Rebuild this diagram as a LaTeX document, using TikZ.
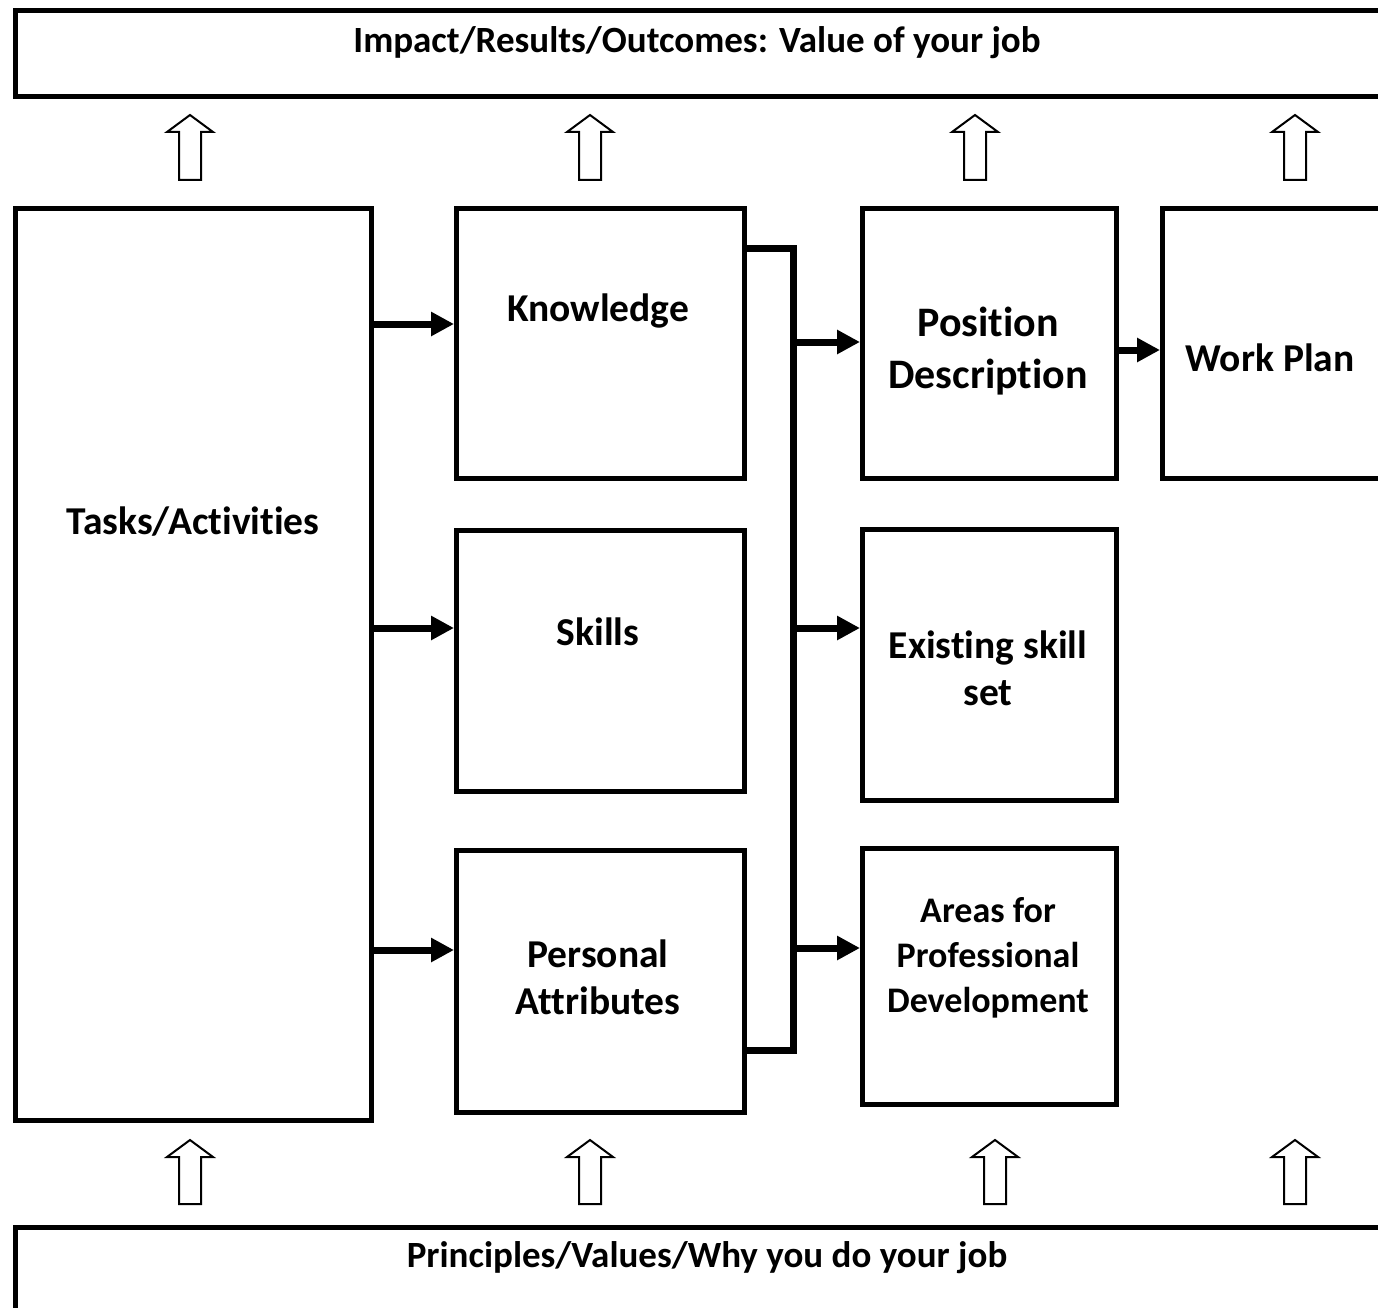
\documentclass[tikz,border=0pt]{standalone}
\usepackage{fontspec}
\setmainfont{Carlito}[Ligatures=NoCommon]
\usetikzlibrary{arrows.meta}

\tikzset{
  box/.style={draw, line width=5pt, inner sep=0pt, anchor=north west},
  lbl/.style={font=\bfseries\fontsize{39.5}{47}\selectfont, align=center},
  band/.style={lbl, font=\bfseries\fontsize{37}{44}\selectfont},
  conn/.style={line width=7pt, -{Triangle[length=23pt,width=23pt]}},
  hollow/.style={draw, line width=2pt, fill=white, line join=miter},
}

\begin{document}
\begin{tikzpicture}[x=1pt,y=-1pt]
\useasboundingbox (0,0) rectangle (1378,1308);

% top and bottom bands
\node[box, minimum width=1450, minimum height=86] (impact) at (13,8) {};
\node[band] (impact-t) at (697,43) {Impact/Results/Outcomes: Value of your job};
\node[box, minimum width=1450, minimum height=150] (princ) at (13,1225) {};
\node[band] (princ-t) at (707,1258) {Principles/Values/Why you do your job};

% first column
\node[box, minimum width=356, minimum height=912] (tasks) at (13,206) {};
\node[lbl] (tasks-t) at (193,522) {Tasks/Activities};

% second column
\node[box, minimum width=288, minimum height=270] (know) at (454,206) {};
\node[lbl] (know-t) at (598,311) {Knowledge};
\node[box, minimum width=288, minimum height=261] (skills) at (454,528) {};
\node[lbl] (skills-t) at (598,632) {Skills};
\node[box, minimum width=288, minimum height=262] (pers) at (454,848) {};
\node[lbl] (pers-t) at (598,977) {Personal\\Attributes};

% third column
\node[box, minimum width=254, minimum height=270] (pos) at (860,206) {};
\node[lbl, font=\bfseries\fontsize{42}{52}\selectfont] (pos-t) at (988,351) {Position\\Description};
\node[box, minimum width=254, minimum height=271] (exist) at (860,527) {};
\node[lbl] (exist-t) at (988,668) {Existing skill\\set};
\node[box, minimum width=254, minimum height=256] (areas) at (860,846) {};
\node[lbl, font=\bfseries\fontsize{36}{45}\selectfont] (areas-t) at (988,958) {Areas for\\Professional\\Development};

% work plan
\node[box, minimum width=300, minimum height=270] (plan) at (1160,206) {};
\node[lbl] (plan-t) at (1270,358) {Work Plan};

% tasks feed the three middle boxes
\foreach \y/\to in {324/know, 628/skills, 950/pers}
  \draw[conn] (tasks.east |- 0,\y) -- (\to.west |- 0,\y);

% bracket joining the middle boxes
\coordinate (bt) at (793,248);
\coordinate (bb) at (793,1050);
\draw[line width=7pt, line join=miter] (know.east |- bt) -- (bt) -- (bb) -- (pers.east |- bb);
\foreach \y/\to in {342/pos, 628/exist, 948/areas}
  \draw[conn] (bt |- 0,\y) -- (\to.west |- 0,\y);

\draw[conn] (pos.east |- 0,350) -- (plan.west |- 0,350);

% hollow block arrows
\foreach \x in {190,590,975,1295}
  \draw[hollow] ({\x-11},180) -- ({\x-11},132) -- ({\x-23},132) -- (\x,115)
    -- ({\x+23},132) -- ({\x+11},132) -- ({\x+11},180) -- cycle;
\foreach \x in {190,590,995,1295}
  \draw[hollow] ({\x-11},1204) -- ({\x-11},1157) -- ({\x-23},1157) -- (\x,1140)
    -- ({\x+23},1157) -- ({\x+11},1157) -- ({\x+11},1204) -- cycle;
\end{tikzpicture}
\end{document}
